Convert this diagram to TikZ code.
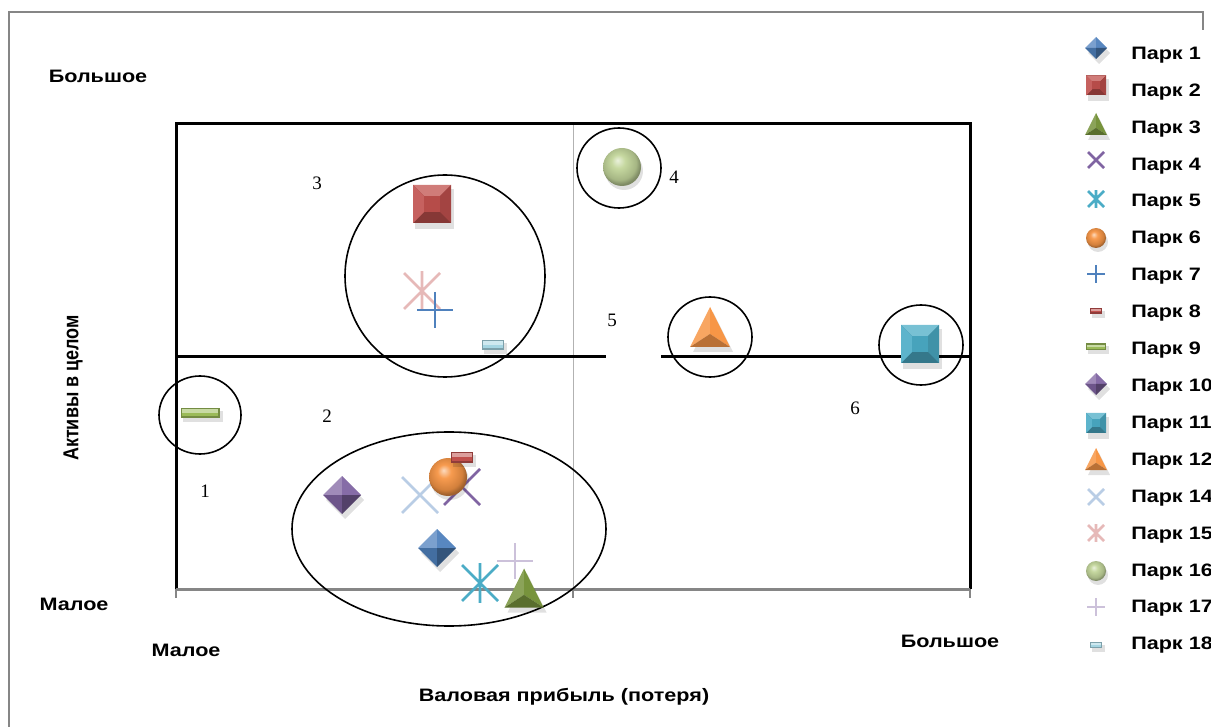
\documentclass[tikz,border=0pt]{standalone}
\usepackage{fontspec}
\setmainfont{Liberation Sans}
\newfontfamily\numfont{Liberation Serif}
\definecolor{pblue}{HTML}{4F81BD}
\definecolor{pred}{HTML}{C0504D}
\definecolor{pgreen}{HTML}{77933C}
\definecolor{pgreenL}{HTML}{9BBB59}
\definecolor{ppurple}{HTML}{8064A2}
\definecolor{pteal}{HTML}{4BACC6}
\definecolor{porange}{HTML}{F79646}
\definecolor{plblue}{HTML}{B9CDE5}
\definecolor{ppink}{HTML}{E6B9B8}
\definecolor{plgreen}{HTML}{C3D69B}
\definecolor{plav}{HTML}{CCC1DA}
\definecolor{pcyanL}{HTML}{A5D5E2}
\definecolor{framegray}{HTML}{868686}
\colorlet{ballbase}{porange}
\pgfdeclareradialshading[ballbase]{pkball}{\pgfpoint{-6bp}{9bp}}{%
  color(0bp)=(ballbase!35!white);
  color(9bp)=(ballbase!95!white);
  color(22bp)=(ballbase!85!black);
  color(27bp)=(ballbase!65!black);
  color(50bp)=(ballbase!65!black)}
\newcommand\pkSquare[4]{%
\begin{scope}[shift={(#1,#2)}]
\fill[black,opacity=.12] ({-#3+2},{-#3+4}) rectangle ({#3+3},{#3+6});
\fill[#4!70!black] (-#3,-#3) rectangle (#3,#3);
\fill[#4!75!white] (-#3,-#3) -- (#3,-#3) -- ({.4*#3},{-.4*#3}) -- ({-.4*#3},{-.4*#3}) -- cycle;
\fill[#4!90!white] (-#3,-#3) -- ({-.4*#3},{-.4*#3}) -- ({-.4*#3},{.4*#3}) -- (-#3,#3) -- cycle;
\fill[#4!85!black] (#3,-#3) -- ({.4*#3},{-.4*#3}) -- ({.4*#3},{.4*#3}) -- (#3,#3) -- cycle;
\fill[#4!95!black] ({-.4*#3},{-.4*#3}) rectangle ({.4*#3},{.4*#3});
\end{scope}}
\newcommand\pkDiamond[4]{%
\begin{scope}[shift={(#1,#2)}]
\fill[black,opacity=.12] (3,{-#3+5}) -- ({#3+3},5) -- (3,{#3+5}) -- ({-#3+3},5) -- cycle;
\fill[#4!75!white] (0,0) -- (-#3,0) -- (0,-#3) -- cycle;
\fill[#4!95!white] (0,0) -- (0,-#3) -- (#3,0) -- cycle;
\fill[#4!85!black] (0,0) -- (-#3,0) -- (0,#3) -- cycle;
\fill[#4!65!black] (0,0) -- (#3,0) -- (0,#3) -- cycle;
\end{scope}}
\newcommand\pkTri[4]{%
\begin{scope}[shift={(#1,#2)}]
\fill[black,opacity=.12] (3,{-#3+5}) -- ({#3+3},{#3+5}) -- ({-#3+3},{#3+5}) -- cycle;
\fill[#4!85!white] (0,-#3) -- (-#3,#3) -- (0,{.35*#3}) -- cycle;
\fill[#4] (0,-#3) -- (#3,#3) -- (0,{.35*#3}) -- cycle;
\fill[#4!75!black] (-#3,#3) -- (#3,#3) -- (0,{.35*#3}) -- cycle;
\end{scope}}
\newcommand\pkBar[5]{% x y halfw halfh color
\begin{scope}[shift={(#1,#2)}]
\fill[black,opacity=.12] ({-#3+2},{-#4+3}) rectangle ({#3+3},{#4+4});
\fill[#5!75!black] (-#3,-#4) rectangle (#3,#4);
\fill[#5] ({-#3+1.2},{-#4+1.2}) rectangle ({#3-1.2},{#4-1.5});
\fill[#5!55!white] ({-#3+1.2},{-#4+1.2}) rectangle ({#3-1.2},{0});
\end{scope}}
\newcommand\pkBall[4]{%
\fill[black,opacity=.12] ({#1+2},{#2+4}) circle ({#3});
\begingroup\colorlet{ballbase}{#4}%
\shade[shading=pkball] (#1,#2) circle (#3);\endgroup}
\newcommand\pkX[4]{%
\draw[#4,line width=2.6pt] ({#1-#3},{#2-#3}) -- ({#1+#3},{#2+#3}) ({#1-#3},{#2+#3}) -- ({#1+#3},{#2-#3});}
\newcommand\pkPlus[4]{%
\draw[#4,line width=2.6pt] ({#1-#3},#2) -- ({#1+#3},#2) (#1,{#2-#3}) -- (#1,{#2+#3});}
\newcommand\pkStar[4]{%
\draw[#4,line width=2.6pt] ({#1-#3},{#2-#3}) -- ({#1+#3},{#2+#3}) ({#1-#3},{#2+#3}) -- ({#1+#3},{#2-#3}) (#1,{#2-1.1*#3}) -- (#1,{#2+1.1*#3});}
\tikzset{
  lbl/.style={font=\fontsize{18}{20}\selectfont\bfseries, inner sep=0pt, xscale=1.2},
  num/.style={font=\numfont\fontsize{19}{21}\selectfont, inner sep=0pt},
  zone/.style={draw=black, line width=1.6pt},
  boxline/.style={draw=black, line width=3pt},
  leg/.style={font=\fontsize{18}{20}\selectfont\bfseries, anchor=west, inner sep=0pt, xscale=1.2},
}
\begin{document}
\begin{tikzpicture}[x=1pt,y=-1pt]
\useasboundingbox (0,0) rectangle (1211,727);
\clip (0,0) rectangle (1211,727);
% outer frame
\draw[framegray, line width=1.5pt] (1203,30) -- (1203,12) -- (9,12) -- (9,730);
% main box
\draw[gray!60, line width=1pt] (573,124) -- (573,598);
\draw[boxline] (176,589) -- (176,124) -- (970,124) -- (970,589);
\draw[boxline] (176,357) -- (606,357);
\draw[boxline] (661,357) -- (970,357);
\draw[framegray, line width=3pt] (176,589) -- (970,589);
\draw[framegray, line width=1.5pt] (176,589) -- (176,598) (573,589) -- (573,598) (970,589) -- (970,598);
% zones
\draw[zone] (445,276) ellipse [x radius=100, y radius=101];
\draw[zone] (619,168) ellipse [x radius=42, y radius=40];
\draw[zone] (710,337) ellipse [x radius=42, y radius=40];
\draw[zone] (921,345) ellipse [x radius=42, y radius=40];
\draw[zone] (200,415) ellipse [x radius=41, y radius=39];
\draw[zone] (449,529) ellipse [x radius=157, y radius=97];
% zone numbers
\node[num] (n1) at (205,491) {1};
\node[num] (n2) at (327,416) {2};
\node[num] (n3) at (317,183) {3};
\node[num] (n4) at (674,177) {4};
\node[num] (n5) at (612,320) {5};
\node[num] (n6) at (855,408) {6};
% markers
\pkSquare{432}{204}{19}{pred}
\pkStar{422}{291}{18}{ppink}
\pkPlus{435}{310}{18}{pblue}
\pkBar{493}{345}{11}{5}{pcyanL}
\pkBall{622}{167}{19}{plgreen}
\pkTri{710}{327}{20}{porange}
\pkSquare{920}{344}{19}{pteal}
\pkBar{200}{413}{19.5}{5}{pgreenL}
\pkDiamond{342}{495}{19}{ppurple}
\pkX{420}{495}{18}{plblue}
\pkX{462}{487}{18}{ppurple}
\pkBall{448}{477}{19}{porange}
\pkBar{462}{457}{11}{5.5}{pred}
\pkDiamond{437}{548}{19}{pblue}
\pkPlus{515}{561}{18}{plav}
\pkStar{480}{583}{18}{pteal}
\pkTri{524}{588}{19.5}{pgreen}
% axis labels
\node[lbl] (ytop) at (98,76) {Большое};
\node[lbl] (ybot) at (74,604) {Малое};
\node[lbl] (xleft) at (186,650) {Малое};
\node[lbl] (xright) at (950,641) {Большое};
\node[lbl] (xtitle) at (564,697) {Валовая прибыль (потеря)};
\node[lbl, rotate=90] (ytitle) at (73,388) {Активы в целом};
% legend
\foreach \i/\t in {0/1,1/2,2/3,3/4,4/5,5/6,6/7,7/8,8/9,9/10,10/11,11/12,12/14,13/15,14/16,15/17,16/18}{
  \node[leg] (leg\t) at (1131,{55+36.9*\i}) {Парк \t};
}
\pkDiamond{1096}{48}{11}{pblue}
\pkSquare{1096}{85.5}{10}{pred}
\pkTri{1096}{124}{11}{pgreen}
\pkX{1096}{160}{8}{ppurple}
\pkStar{1096}{199}{8}{pteal}
\pkBall{1096}{238}{10}{porange}
\pkPlus{1096}{274}{9}{pblue}
\pkBar{1096}{311}{6}{3}{pred}
\pkBar{1096}{347}{10}{3.5}{pgreenL}
\pkDiamond{1096}{384}{11}{ppurple}
\pkSquare{1096}{423}{10}{pteal}
\pkTri{1096}{459}{11}{porange}
\pkX{1096}{497}{8}{plblue}
\pkStar{1096}{533}{8}{ppink}
\pkBall{1096}{571}{10}{plgreen}
\pkPlus{1096}{607}{9}{plav}
\pkBar{1096}{645}{6}{3}{pcyanL}
\end{tikzpicture}
\end{document}
